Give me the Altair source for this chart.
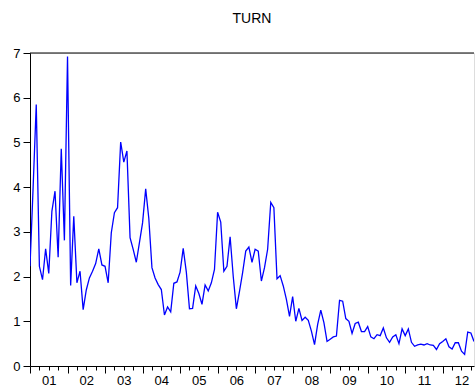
import altair as alt
import pandas as pd

# Monthly TURN series, 2001M01 - 2012M11
start_year = 2001
turn = [
    2.23, 4.00, 5.85, 2.23, 1.93, 2.62, 2.07, 3.46, 3.91, 2.43, 4.86, 2.81,
    6.92, 1.80, 3.35, 1.86, 2.12, 1.26, 1.70, 1.97, 2.12, 2.29, 2.62, 2.26,
    2.23, 1.86, 2.98, 3.43, 3.54, 5.01, 4.56, 4.81, 2.87, 2.61, 2.32, 2.76,
    3.20, 3.96, 3.30, 2.20, 1.97, 1.82, 1.71, 1.14, 1.32, 1.21, 1.85, 1.88,
    2.10, 2.63, 2.10, 1.28, 1.29, 1.79, 1.62, 1.38, 1.81, 1.68, 1.86, 2.16,
    3.44, 3.22, 2.12, 2.23, 2.89, 2.00, 1.28, 1.67, 2.09, 2.57, 2.66, 2.32,
    2.61, 2.57, 1.90, 2.20, 2.61, 3.66, 3.54, 1.95, 2.02, 1.79, 1.49, 1.11,
    1.55, 1.00, 1.29, 1.02, 1.09, 1.02, 0.78, 0.48, 0.93, 1.25, 0.97, 0.55,
    0.60, 0.65, 0.67, 1.47, 1.45, 1.06, 1.00, 0.73, 0.95, 0.98, 0.77, 0.77,
    0.88, 0.65, 0.61, 0.70, 0.68, 0.85, 0.63, 0.53, 0.65, 0.70, 0.50, 0.83,
    0.68, 0.83, 0.53, 0.44, 0.47, 0.49, 0.47, 0.50, 0.47, 0.46, 0.37, 0.50,
    0.55, 0.61, 0.43, 0.38, 0.52, 0.52, 0.33, 0.26, 0.76, 0.74, 0.55,
]
y_ticks = [0, 1, 2, 3, 4, 5, 6, 7]

# decimal-year position of each monthly observation
t = [start_year + i / 12 for i in range(len(turn))]
df = pd.DataFrame({"t": t, "turn": turn})

x_end = t[-1]
quarter_ticks = [start_year + q / 4 for q in range(int((x_end - start_year) * 4) + 1)]

FONT = "Liberation Sans"

x_scale = alt.Scale(domain=[start_year, x_end], nice=False, zero=False)
y_scale = alt.Scale(domain=[0, 7], nice=False)

line = alt.Chart(df).mark_line(color="#0000FF", strokeWidth=1.3, clip=True).encode(
    x=alt.X(
        "t:Q",
        scale=x_scale,
        title=None,
        axis=alt.Axis(
            values=quarter_ticks,
            grid=False,
            domainColor="black",
            domainWidth=1,
            tickColor="black",
            tickWidth=1,
            tickSize={"condition": {"test": "datum.value % 1 == 0", "value": 7}, "value": 4},
            labelExpr="datum.value % 1 == 0.5 ? slice('0' + (floor(datum.value) % 100), -2) : ''",
            labelFont=FONT,
            labelFontSize=13,
            labelColor="black",
            labelPadding=4,
            labelFlush=False,
            labelOverlap=False,
        ),
    ),
    y=alt.Y(
        "turn:Q",
        scale=y_scale,
        title=None,
        axis=alt.Axis(
            values=y_ticks,
            grid=False,
            domainColor="black",
            domainWidth=1,
            tickColor="black",
            tickWidth=1,
            tickSize=7,
            labelFont=FONT,
            labelFontSize=13,
            labelColor="black",
            labelPadding=3,
        ),
    ),
)

top_border = alt.Chart(pd.DataFrame({"v": [7]})).mark_rule(color="black", strokeWidth=1).encode(
    y=alt.Y("v:Q", scale=y_scale)
)

chart = (
    alt.layer(line, top_border)
    .properties(
        width=444,
        height=313,
        title=alt.TitleParams(
            "TURN", font=FONT, fontSize=14, fontWeight="normal", color="black",
            anchor="middle", offset=21,
        ),
        autosize=alt.AutoSizeParams(type="none"),
        padding={"left": 30, "top": 53, "right": 1, "bottom": 25},
    )
    .configure_view(stroke=None)
    .configure(background="white")
)

chart.save("out.html", embed_options={"renderer": "svg", "actions": False})
